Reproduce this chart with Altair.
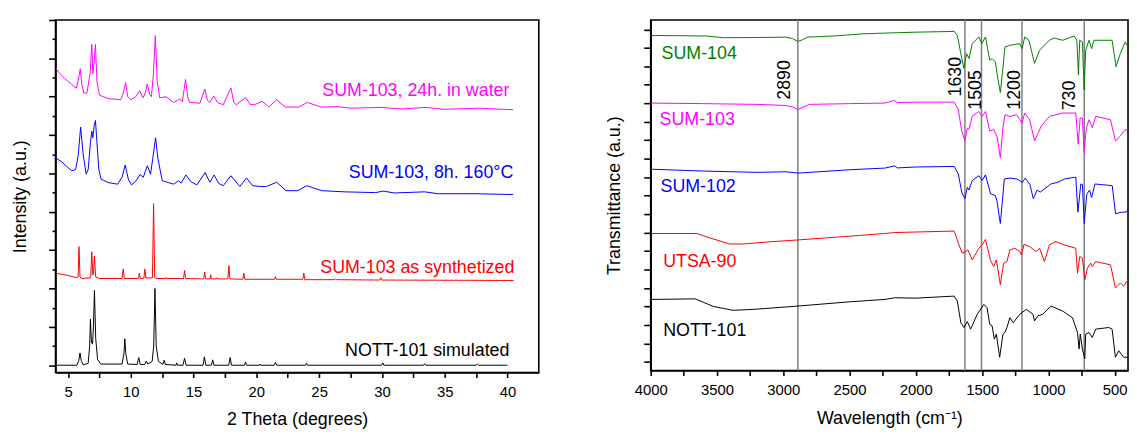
import altair as alt
import pandas as pd

# ---------------- XRD (left panel) ----------------
xrd_names = ["NOTT-101 simulated", "SUM-103 as synthetized", "SUM-103, 8h. 160°C", "SUM-103, 24h. in water"]
xrd_colors = ["#000000", "#FF0000", "#0000FF", "#FF00FF"]

xrd_nott = [(4.0, 0), (5.7, 0), (5.85, 0.12), (5.95, 0.32), (6.05, 0.12), (6.2, 0.01), (6.6, 0.05), (6.72, 0.5),
            (6.78, 1.2), (6.86, 0.6), (6.95, 0.55), (7.02, 1.0), (7.1, 1.95), (7.2, 0.7), (7.35, 0.15), (7.6, 0.03),
            (9.3, 0.03), (9.45, 0.3), (9.52, 0.69), (9.6, 0.3), (9.75, 0.03), (10.5, 0.02), (10.63, 0.2),
            (10.75, 0.02), (11.1, 0.02), (11.23, 0.11), (11.35, 0.03), (11.7, 0.1), (11.82, 0.5), (11.92, 2.0),
            (12.02, 0.5), (12.2, 0.1), (12.55, 0.02), (12.65, 0.13), (12.75, 0.02), (13.6, 0.0), (13.65, 0.06),
            (13.72, 0.0), (14.15, 0.0), (14.28, 0.18), (14.4, 0.0), (15.75, 0.0), (15.86, 0.22), (15.97, 0.0),
            (16.42, 0.0), (16.52, 0.14), (16.62, 0.0), (17.8, 0.0), (17.91, 0.2), (18.02, 0.0), (19.05, 0.0),
            (19.13, 0.08), (19.22, 0.0), (20.25, 0.0), (20.3, 0.03), (20.36, 0.0), (21.42, 0.0), (21.52, 0.07),
            (21.62, 0.0), (23.92, 0.0), (24.0, 0.05), (24.08, 0.0), (29.98, 0.0), (30.07, 0.06), (30.16, 0.0),
            (33.32, 0.0), (33.4, 0.04), (33.48, 0.0), (37.5, 0.0), (37.6, 0.03), (37.7, 0.0), (40.0, 0.0)]

xrd_synth = [(4.0, 2.40), (5.0, 2.34), (5.7, 2.28), (5.8, 2.3), (5.87, 3.09), (5.95, 2.3), (6.1, 2.26), (6.8, 2.28),
             (6.89, 2.96), (6.97, 2.35), (7.02, 2.4), (7.1, 2.84), (7.2, 2.3), (7.5, 2.26), (9.3, 2.26), (9.39, 2.51),
             (9.48, 2.26), (10.6, 2.26), (10.68, 2.40), (10.76, 2.26), (11.04, 2.27), (11.12, 2.51), (11.2, 2.27),
             (11.72, 2.28), (11.81, 4.21), (11.9, 2.3), (12.0, 2.26), (12.75, 2.26), (12.8, 2.29), (12.85, 2.26),
             (14.2, 2.26), (14.28, 2.47), (14.36, 2.26), (15.8, 2.25), (15.88, 2.43), (15.96, 2.25), (16.3, 2.25),
             (16.36, 2.36), (16.42, 2.25), (16.8, 2.25), (16.85, 2.28), (16.9, 2.25), (17.73, 2.25), (17.81, 2.60),
             (17.89, 2.25), (18.92, 2.24), (19.0, 2.40), (19.08, 2.24), (21.45, 2.24), (21.52, 2.31), (21.6, 2.24),
             (23.7, 2.24), (23.78, 2.40), (23.86, 2.23), (26.2, 2.23), (26.3, 2.25), (26.4, 2.23), (29.82, 2.22),
             (29.9, 2.28), (29.98, 2.22), (40.5, 2.21)]

xrd_160 = [(4.0, 5.41), (4.5, 5.3), (5.0, 5.15), (5.3, 5.07), (5.6, 5.1), (5.8, 5.45), (6.0, 6.21), (6.2, 5.5),
           (6.44, 4.98), (6.6, 5.1), (6.78, 5.8), (6.89, 6.10), (6.97, 5.93), (7.08, 6.25), (7.18, 6.38), (7.3, 5.8),
           (7.45, 5.1), (7.63, 4.85), (8.2, 4.76), (8.95, 4.72), (9.3, 4.9), (9.55, 5.22), (9.8, 4.85), (10.05, 4.70),
           (10.4, 4.8), (10.73, 4.97), (10.99, 4.90), (11.15, 5.05), (11.31, 5.20), (11.57, 4.98), (11.75, 5.4),
           (11.97, 5.93), (12.15, 5.4), (12.5, 4.81), (13.0, 4.76), (13.41, 4.72), (13.8, 4.81), (14.0, 4.75),
           (14.39, 4.96), (14.8, 4.78), (15.26, 4.70), (15.91, 5.02), (16.3, 4.77), (16.63, 4.96), (17.0, 4.74),
           (17.36, 4.68), (17.97, 4.94), (18.68, 4.66), (19.21, 4.88), (19.7, 4.68), (20.26, 4.66), (20.8, 4.66),
           (21.62, 4.77), (22.35, 4.55), (23.3, 4.55), (24.02, 4.68), (25.2, 4.55), (27.0, 4.52), (29.5, 4.5),
           (30.1, 4.54), (31.0, 4.49), (33.4, 4.52), (34.5, 4.47), (37.5, 4.47), (40.45, 4.45)]

xrd_water = [(4.0, 7.75), (4.3, 7.62), (4.73, 7.47), (5.2, 7.35), (5.66, 7.22), (5.85, 7.5), (5.97, 7.73), (6.1, 7.3),
             (6.26, 7.09), (6.5, 7.1), (6.75, 7.6), (6.89, 8.36), (6.97, 7.6), (7.07, 7.9), (7.18, 8.36), (7.3, 7.4),
             (7.5, 7.04), (8.2, 6.95), (9.2, 6.92), (9.4, 7.1), (9.58, 7.37), (9.75, 7.0), (10.0, 6.92), (10.4, 7.0),
             (10.7, 7.16), (10.97, 6.97), (11.15, 7.1), (11.31, 7.33), (11.5, 7.05), (11.64, 7.0), (11.8, 7.6),
             (11.95, 8.59), (12.1, 7.4), (12.3, 6.97), (12.8, 7.0), (13.4, 6.85), (13.9, 6.94), (14.1, 6.87),
             (14.36, 7.45), (14.55, 6.95), (14.7, 6.85), (15.5, 6.83), (15.89, 7.2), (16.1, 6.9), (16.3, 6.85),
             (16.6, 7.02), (16.9, 6.85), (17.36, 6.79), (17.97, 7.23), (18.2, 6.85), (18.4, 6.79), (19.15, 6.98),
             (19.5, 6.8), (19.85, 6.79), (20.46, 6.88), (21.0, 6.73), (21.62, 6.92), (22.3, 6.73), (23.4, 6.73),
             (24.04, 6.85), (25.2, 6.73), (26.5, 6.74), (27.5, 6.7), (30.0, 6.72), (31.5, 6.68), (33.5, 6.72),
             (35.0, 6.67), (37.7, 6.7), (40.46, 6.66)]

xrd_label_x = [40.16, 40.55, 40.47, 40.16]
xrd_label_y = [0.24, 2.40, 4.87, 7.02]

x_ticks_xrd = [5, 7.5, 10, 12.5, 15, 17.5, 20, 22.5, 25, 27.5, 30, 32.5, 35, 37.5, 40]
y_ticks_xrd = [i * 0.5 for i in range(0, 19)]

# ---------------- FTIR (right panel) ----------------
ir_names = ["SUM-104", "SUM-103", "SUM-102", "UTSA-90", "NOTT-101"]
ir_colors = ["#008000", "#FF00FF", "#0000FF", "#FF0000", "#000000"]

ir_104 = [(4000, 17.67), (3800, 17.66), (3577, 17.64), (3452, 17.55), (3200, 17.56), (2980, 17.58), (2930, 17.5),
          (2890, 17.35), (2850, 17.45), (2818, 17.58), (2600, 17.65), (2400, 17.76), (2234, 17.8), (2000, 17.85),
          (1711, 17.89), (1687, 17.67), (1661, 16.69), (1637, 15.89), (1618, 16.69), (1599, 16.42), (1575, 17.23),
          (1525, 17.59), (1503, 17.23), (1475, 17.59), (1443, 16.33), (1425, 16.42), (1400, 16.24), (1388, 15.62),
          (1363, 14.58), (1345, 15.8), (1328, 17.05), (1291, 17.14), (1241, 17.2), (1216, 17.23), (1199, 16.96),
          (1179, 17.59), (1147, 17.41), (1105, 16.16), (1067, 16.87), (993, 17.41), (955, 17.53), (893, 17.41),
          (806, 17.64), (786, 17.41), (774, 15.53), (764, 17.41), (744, 17.32), (731, 14.73), (719, 16.87),
          (694, 17.41), (674, 16.96), (657, 17.41), (520, 17.41), (490, 15.98), (458, 16.69), (421, 17.32),
          (400, 17.05)]

ir_103 = [(4000, 14.01), (3600, 13.98), (3200, 13.94), (2980, 13.88), (2930, 13.8), (2890, 13.65), (2850, 13.8),
          (2800, 13.94), (2500, 13.98), (2234, 14.01), (2160, 14.15), (2140, 14.04), (2000, 14.06), (1711, 14.06),
          (1680, 13.65), (1654, 12.49), (1630, 11.96), (1612, 12.67), (1600, 12.58), (1575, 13.29), (1525, 13.56),
          (1500, 13.29), (1475, 13.56), (1443, 12.49), (1413, 12.58), (1388, 12.22), (1363, 11.06), (1345, 12.58),
          (1328, 13.38), (1291, 13.29), (1241, 13.38), (1199, 12.94), (1179, 13.47), (1142, 13.11), (1105, 11.96),
          (1055, 12.76), (993, 13.29), (893, 13.47), (794, 13.47), (776, 11.78), (761, 13.2), (744, 13.2),
          (731, 11.33), (714, 12.67), (694, 13.11), (669, 12.67), (644, 13.29), (532, 13.11), (495, 11.96),
          (458, 12.22), (433, 12.49), (400, 12.62)]

ir_102 = [(4000, 10.43), (3600, 10.33), (3200, 10.26), (2980, 10.29), (2890, 10.22), (2800, 10.26), (2500, 10.4),
          (2234, 10.49), (2160, 10.61), (2140, 10.5), (2000, 10.55), (1711, 10.58), (1680, 10.17), (1654, 9.19),
          (1630, 8.83), (1612, 9.45), (1600, 9.3), (1575, 9.82), (1525, 10.08), (1500, 9.82), (1475, 10.13),
          (1437, 9.1), (1401, 9.0), (1388, 8.7), (1363, 7.49), (1345, 8.9), (1333, 9.9), (1290, 9.95), (1240, 9.9),
          (1196, 9.72), (1175, 9.95), (1140, 9.6), (1114, 8.83), (1085, 9.3), (1062, 9.19), (982, 9.63),
          (930, 9.72), (880, 9.9), (794, 10.0), (778, 8.11), (756, 9.63), (744, 9.6), (730, 7.49), (711, 9.08),
          (690, 9.3), (675, 8.9), (649, 9.63), (519, 9.54), (494, 8.02), (450, 8.1), (413, 8.11), (400, 8.25)]

ir_utsa = [(4000, 6.95), (3652, 6.95), (3550, 6.7), (3403, 6.38), (3303, 6.38), (3100, 6.5), (2890, 6.6),
           (2600, 6.75), (2234, 6.95), (2160, 7.0), (2000, 7.03), (1711, 7.08), (1675, 6.33), (1650, 5.88),
           (1625, 5.97), (1607, 6.06), (1575, 5.52), (1525, 6.15), (1500, 6.33), (1475, 6.63), (1438, 5.52),
           (1413, 5.16), (1393, 5.52), (1363, 4.18), (1338, 5.34), (1313, 5.43), (1291, 6.06), (1254, 6.15),
           (1216, 5.97), (1204, 5.79), (1184, 6.36), (1142, 6.24), (1092, 5.97), (1067, 6.15), (1030, 5.43),
           (993, 6.33), (943, 6.51), (893, 6.36), (794, 6.15), (781, 4.8), (764, 5.7), (744, 5.61), (726, 4.45),
           (706, 5.07), (681, 5.34), (669, 5.16), (644, 5.43), (532, 5.25), (495, 4.0), (458, 4.27), (433, 4.09),
           (400, 4.45)]

ir_nott = [(4000, 3.38), (3664, 3.41), (3527, 3.0), (3378, 2.79), (3229, 2.84), (2890, 3.02), (2500, 3.25),
           (2234, 3.38), (2160, 3.47), (2000, 3.45), (1711, 3.56), (1687, 3.29), (1661, 2.12), (1637, 1.86),
           (1612, 2.18), (1587, 1.77), (1537, 2.58), (1487, 3.11), (1463, 2.93), (1443, 2.04), (1425, 1.95),
           (1408, 1.23), (1393, 1.5), (1368, 0.25), (1343, 1.5), (1328, 1.59), (1313, 1.86), (1291, 2.39),
           (1266, 2.12), (1216, 2.58), (1167, 2.84), (1117, 2.58), (1105, 2.22), (1080, 2.49), (1042, 2.58),
           (981, 3.02), (893, 2.75), (819, 2.39), (781, 1.59), (769, 0.7), (760, 1.5), (744, 0.7), (726, 0.16),
           (719, 1.5), (694, 1.59), (669, 1.32), (644, 1.77), (545, 1.86), (520, 1.77), (495, 0.25), (470, 0.6),
           (433, 0.25), (400, 0.25)]

ir_label_x = [3918, 3933, 3926, 3906, 3906]
ir_label_y = [16.42, 12.85, 9.19, 5.16, 1.41]

band_positions = [2890, 1630, 1505, 1200, 730]
band_texts = ["2890", "1630", "1505", "1200", "730"]
band_text_x = [2950, 1661, 1507, 1213, 803]
band_text_y = [14.19, 14.37, 13.65, 13.65, 13.62]

x_ticks_ir = list(range(4000, 499, -250))
y_ticks_ir = list(range(0, 19))

FONT = "Liberation Sans"

# ---------------- build tables ----------------
def long_table(names, series):
    rows = []
    for n, pts in zip(names, series):
        for i, (x, y) in enumerate(pts):
            rows.append({"series": n, "x": x, "y": y, "i": i})
    return pd.DataFrame(rows)

xrd_df = long_table(xrd_names, [xrd_nott, xrd_synth, xrd_160, xrd_water])
xrd_lab = pd.DataFrame({"series": xrd_names, "x": xrd_label_x, "y": xrd_label_y})
ir_df = long_table(ir_names, [ir_104, ir_103, ir_102, ir_utsa, ir_nott])
ir_lab = pd.DataFrame({"series": ir_names, "x": ir_label_x, "y": ir_label_y})
band_df = pd.DataFrame({"pos": band_positions})
band_lab = pd.DataFrame({"t": band_texts, "x": band_text_x, "y": band_text_y})

# ---------------- left panel ----------------
xrd_color = alt.Color("series:N", scale=alt.Scale(domain=xrd_names, range=xrd_colors), legend=None)
xs_xrd = alt.Scale(domain=[4, 42.5], nice=False, zero=False)
ys_xrd = alt.Scale(domain=[-0.19, 9.0], nice=False, zero=False)

x_axis_xrd = alt.Axis(values=x_ticks_xrd, tickCount=200, format="d",
                      labelExpr="datum.value % 5 === 0 ? datum.label : ''",
                      title="2 Theta (degrees)", tickSize=5, labelPadding=7, titlePadding=12, labelFlush=False)
y_axis_xrd = alt.Axis(values=y_ticks_xrd, tickCount=200, labels=False, title="Intensity (a.u.)", titlePadding=19,
                      tickSize={"condition": {"test": "datum.value % 1 === 0", "value": 7}, "value": 3.5})

xrd_lines = alt.Chart(xrd_df).mark_line(strokeWidth=1, clip=True).encode(
    x=alt.X("x:Q", scale=xs_xrd, axis=x_axis_xrd),
    y=alt.Y("y:Q", scale=ys_xrd, axis=y_axis_xrd),
    color=xrd_color,
    order="i:Q",
)
xrd_text = alt.Chart(xrd_lab).mark_text(align="right", baseline="alphabetic", font=FONT, fontSize=18).encode(
    x=alt.X("x:Q", scale=xs_xrd),
    y=alt.Y("y:Q", scale=ys_xrd),
    text="series:N",
    color=xrd_color,
)
left = alt.layer(xrd_lines, xrd_text).properties(width=488, height=356)

# ---------------- right panel ----------------
ir_color = alt.Color("series:N", scale=alt.Scale(domain=ir_names, range=ir_colors), legend=None)
xs_ir = alt.Scale(domain=[400, 4000], reverse=True, nice=False, zero=False)
ys_ir = alt.Scale(domain=[-0.47, 18.51], nice=False, zero=False)

x_axis_ir = alt.Axis(values=x_ticks_ir, tickCount=200, format="d",
                     labelExpr="datum.value % 500 === 0 ? datum.label : ''",
                     title="Wavelength (cm⁻¹)", tickSize=5, labelPadding=7, titlePadding=12, labelFlush=False)
y_axis_ir = alt.Axis(values=y_ticks_ir, tickCount=200, labels=False, title="Transmittance (a.u.)",
                     titlePadding=20, tickSize=7)

ir_lines = alt.Chart(ir_df).mark_line(strokeWidth=1, clip=True).encode(
    x=alt.X("x:Q", scale=xs_ir, axis=x_axis_ir),
    y=alt.Y("y:Q", scale=ys_ir, axis=y_axis_ir),
    color=ir_color,
    order="i:Q",
)
ir_rules = alt.Chart(band_df).mark_rule(color="#7f7f7f", strokeWidth=1.5).encode(
    x=alt.X("pos:Q", scale=xs_ir),
)
ir_text = alt.Chart(ir_lab).mark_text(align="left", baseline="alphabetic", font=FONT, fontSize=18).encode(
    x=alt.X("x:Q", scale=xs_ir),
    y=alt.Y("y:Q", scale=ys_ir),
    text="series:N",
    color=ir_color,
)
band_text = alt.Chart(band_lab).mark_text(align="left", baseline="alphabetic", angle=270, font=FONT,
                                           fontSize=18, color="black").encode(
    x=alt.X("x:Q", scale=xs_ir),
    y=alt.Y("y:Q", scale=ys_ir),
    text="t:N",
)
right = alt.layer(ir_rules, ir_lines, ir_text, band_text).properties(width=482, height=354)

chart = alt.hconcat(left, right, spacing=65).resolve_scale(
    color="independent"
).properties(
    padding={"left": 2, "top": 8, "right": 0, "bottom": 2},
    background="white",
).configure_view(
    stroke="black", strokeWidth=1.6
).configure_axis(
    grid=False, domainColor="black", domainWidth=1.6, tickColor="black", tickWidth=1.6,
    labelFont=FONT, labelFontSize=15, labelColor="black",
    titleFont=FONT, titleFontSize=18, titleFontWeight="normal", titleColor="black",
)

chart.save("out.html", embed_options={"renderer": "svg", "actions": False})
